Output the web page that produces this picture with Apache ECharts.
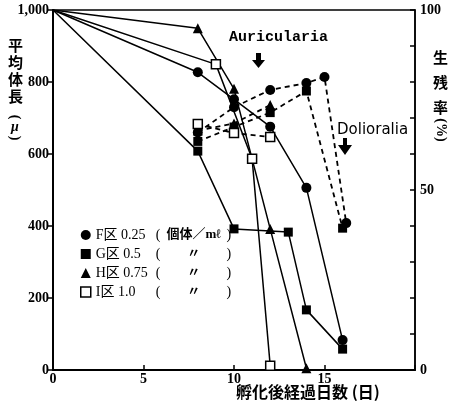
<!DOCTYPE html>
<html>
<head>
<meta charset="utf-8">
<script src="https://cdn.jsdelivr.net/npm/echarts@6/dist/echarts.min.js"></script>
<style>
  html, body { margin: 0; padding: 0; background: #fff; }
  #main { width: 453px; height: 404px; }
</style>
</head>
<body>
<div id="main"></div>
<script>
// days after hatching
var fDays = [0, 8, 10, 12, 14, 16];
var gDays = [0, 8, 10, 13, 14, 16];
var hDays = [0, 8, 10, 12, 14];
var iDays = [0, 9, 11, 12];
// mean body length (μ)
var fLen = [1000, 827, 752, 676, 506, 83];
var gLen = [1000, 608, 392, 383, 167, 58];
var hLen = [1000, 949, 781, 392, 5];
var iLen = [1000, 849, 587, 12];
// survival rate (%)
var fSurvDays = [8, 10, 12, 14, 15, 16.2];
var fSurv = [66, 73, 77.8, 79.7, 81.4, 40.8];
var gSurvDays = [8, 10, 12, 14, 16];
var gSurv = [63.5, 67.5, 71.5, 77.5, 39.4];
var hSurvDays = [8, 10, 12];
var hSurv = [66.5, 68.5, 73.6];
var iSurvDays = [8, 10, 12];
var iSurv = [68.3, 65.8, 64.7];

var groups = ['F', 'G', 'H', 'I'];
var legendName = ['F区 0.25', 'G区 0.5', 'H区 0.75', 'I区 1.0'];
var legendUnit = ['個体／mℓ', '〃', '〃', '〃'];
var symbols = ['circle', 'rect', 'triangle', 'rect'];
var symSizes = [10, 9, 10, 9];

var numFont = "'Liberation Serif', 'Noto Sans CJK JP', serif";
var cjkFont = "'Noto Sans CJK JP', sans-serif";

function pairs(xs, ys, noFirstMark) {
    return xs.map(function (x, k) {
        if (noFirstMark && k === 0) return { value: [x, ys[k]], symbol: 'none' };
        return [x, ys[k]];
    });
}

function styleFor(k) {
    if (k === 3) return { color: '#fff', borderColor: '#000', borderWidth: 1.5 };
    return { color: '#000' };
}

var lenData = [[fDays, fLen], [gDays, gLen], [hDays, hLen], [iDays, iLen]];
var survData = [[fSurvDays, fSurv], [gSurvDays, gSurv], [hSurvDays, hSurv], [iSurvDays, iSurv]];

var series = [];
groups.forEach(function (g, k) {
    series.push({
        name: g,
        type: 'line',
        yAxisIndex: 0,
        data: pairs(lenData[k][0], lenData[k][1], true),
        symbol: symbols[k],
        symbolSize: symSizes[k],
        showSymbol: true,
        itemStyle: styleFor(k),
        lineStyle: { color: '#000', width: 1.5 },
        z: 3
    });
    series.push({
        name: g + '生残',
        type: 'line',
        yAxisIndex: 1,
        data: pairs(survData[k][0], survData[k][1], false),
        symbol: symbols[k],
        symbolSize: symSizes[k],
        itemStyle: styleFor(k),
        lineStyle: { color: '#000', width: 1.8, type: [5, 4] },
        z: 3
    });
});

// small helper for rotated / centred glyphs in the axis names
function glyph(ch, cx, cy, rot, font) {
    return {
        type: 'text', x: cx, y: cy, rotation: rot,
        style: { text: ch, font: font, fill: '#000', align: 'center', verticalAlign: 'middle' }
    };
}

var myChart = echarts.init(document.getElementById('main'));

var option = {
    animation: false,
    backgroundColor: '#fff',
    grid: { left: 53, right: 38, top: 10, bottom: 34, show: true, borderColor: '#000', borderWidth: 1.5 },
    xAxis: {
        type: 'value',
        min: 0, max: 20, interval: 5,
        axisLine: { lineStyle: { color: '#000', width: 2 } },
        axisTick: { inside: true, length: 5, lineStyle: { color: '#000', width: 1.5 } },
        axisLabel: {
            color: '#000', fontFamily: numFont, fontWeight: 'bold', fontSize: 14, margin: 2,
            formatter: function (v) { return v === 20 ? '' : String(v); }
        },
        splitLine: { show: false }
    },
    yAxis: [{
        type: 'value',
        min: 0, max: 1000, interval: 200,
        axisLine: { show: true, lineStyle: { color: '#000', width: 2 } },
        axisTick: { show: true, length: 5, lineStyle: { color: '#000', width: 1.5 } },
        axisLabel: {
            color: '#000', fontFamily: numFont, fontWeight: 'bold', fontSize: 14, margin: 4,
            formatter: function (v) { return v === 1000 ? '1,000' : String(v); }
        },
        splitLine: { show: false }
    }, {
        type: 'value',
        position: 'right',
        min: 0, max: 100, interval: 10,
        axisLine: { show: true, lineStyle: { color: '#000', width: 1.5 } },
        axisTick: { show: true, inside: true, length: 5, lineStyle: { color: '#000', width: 1.5 } },
        axisLabel: {
            color: '#000', fontFamily: numFont, fontWeight: 'bold', fontSize: 14, margin: 5,
            formatter: function (v) { return v % 50 === 0 ? String(v) : ''; }
        },
        splitLine: { show: false }
    }],
    legend: {
        orient: 'vertical',
        left: 75, top: 223,
        itemWidth: 10, itemHeight: 10, itemGap: 5,
        selectedMode: false,
        data: groups.map(function (g, k) {
            return { name: g, icon: symbols[k], itemStyle: styleFor(k) };
        }),
        formatter: function (name) {
            var k = groups.indexOf(name);
            return '{k|' + legendName[k] + '}{p|(}{u|' + legendUnit[k] + '}{p|)}';
        },
        textStyle: {
            color: '#000', fontSize: 14, lineHeight: 14,
            rich: {
                k: { fontFamily: numFont, fontSize: 14, width: 60, color: '#000' },
                p: { fontFamily: numFont, fontSize: 14, width: 6, color: '#000' },
                u: { fontFamily: numFont, fontSize: 13, width: 64, align: 'center', color: '#000', fontWeight: 'bold' }
            }
        }
    },
    graphic: [
        { type: 'text', left: 8, top: 37, style: { text: '平\n均\n体\n長', font: 'bold 15px ' + cjkFont, lineHeight: 17, fill: '#000' } },
        glyph('(', 15, 117, -Math.PI / 2, 'bold 14px ' + numFont),
        glyph('μ', 15, 127, 0, 'bold italic 14px ' + numFont),
        glyph(')', 15, 138, -Math.PI / 2, 'bold 14px ' + numFont),
        { type: 'text', left: 433, top: 45, style: { text: '生\n残\n率', font: 'bold 15px ' + cjkFont, lineHeight: 25, fill: '#000' } },
        glyph('(%)', 441, 130, -Math.PI / 2, 'bold 14px ' + numFont),
        { type: 'text', left: 236, top: 384, style: { text: '孵化後経過日数 (日)', font: 'bold 16px ' + cjkFont, fill: '#000' } },
        { type: 'text', left: 229, top: 30, style: { text: 'Auricularia', font: 'bold 15px "Liberation Mono", monospace', fill: '#000' } },
        { type: 'polygon', shape: { points: [[256, 53], [261, 53], [261, 60], [265, 60], [258.5, 68], [252, 60], [256, 60]] }, style: { fill: '#000' } },
        { type: 'text', left: 337, top: 123, style: { text: 'Dolioralia', font: '15px "DejaVu Sans", sans-serif', fill: '#000' } },
        { type: 'polygon', shape: { points: [[343, 138], [347, 138], [347, 145], [352, 145], [345, 155], [338, 145], [343, 145]] }, style: { fill: '#000' } }
    ],
    series: series
};

myChart.setOption(option);
</script>
</body>
</html>
